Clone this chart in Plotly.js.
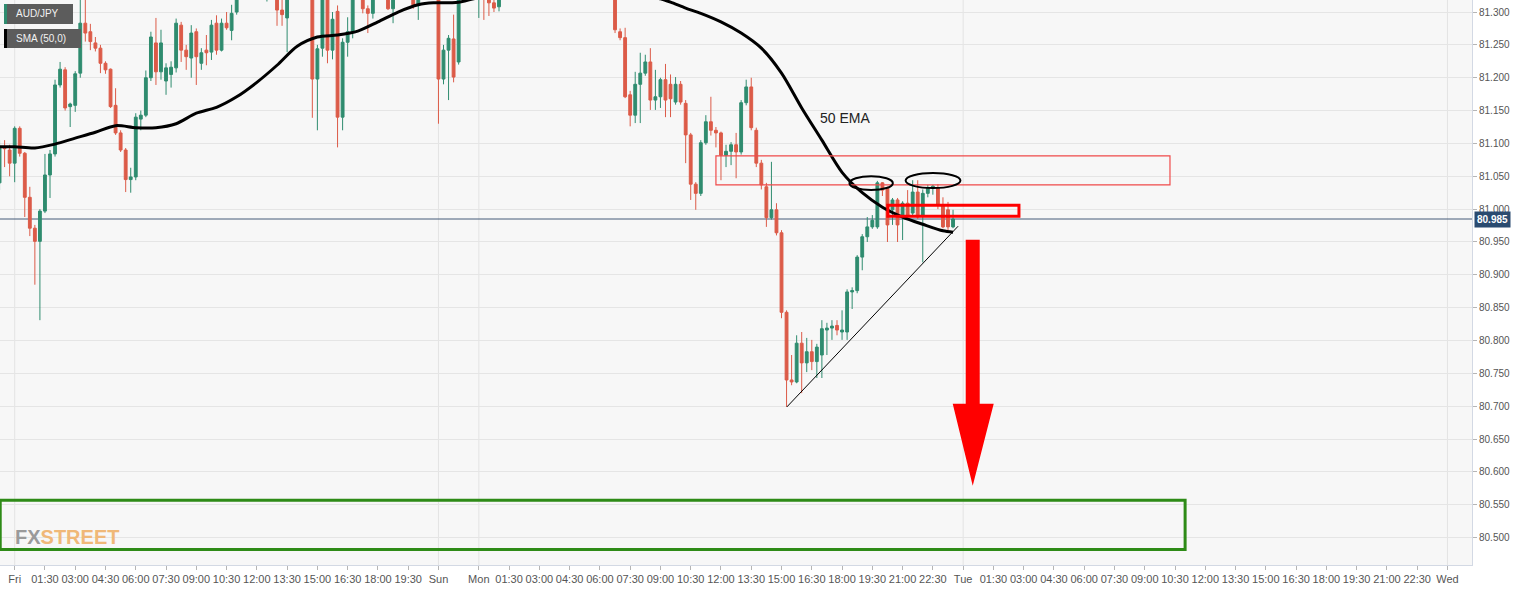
<!DOCTYPE html>
<html><head><meta charset="utf-8">
<script src="https://cdn.plot.ly/plotly-3.0.1.min.js"></script>
<style>html,body{margin:0;padding:0;background:#fff}#chart{width:1536px;height:589px}</style>
</head><body><div id="chart"></div>
<script>
// ---------- labels ----------
const symbol = 'AUD/JPY';
const indicatorLabel = 'SMA (50,0)';
const emaLabel = '50 EMA';
const lastPrice = 80.985;

// ---------- 15-minute candles, session 1: Thu 23:15 -> Fri 20:45 ----------
const friStart = '2021-12-09 23:15';
const friOpen = [
81.040,81.095,81.090,81.070,81.123,81.085,81.018,80.971,80.951,80.997,
81.052,81.084,81.189,81.212,81.156,81.158,81.207,81.283,81.270,81.253,
81.245,81.222,81.213,81.158,81.116,81.090,81.045,81.049,81.137,81.143,
81.200,81.253,81.209,81.195,81.205,81.215,81.280,81.242,81.230,81.270,
81.222,81.242,81.239,81.283,81.242,81.283,81.272,81.300,81.330,81.345,
81.338,81.342,81.350,81.322,81.335,81.330,81.303,81.291,81.330,81.345,
81.350,81.332,81.338,81.198,81.245,81.330,81.242,81.301,81.140,81.254,
81.270,81.330,81.335,81.305,81.298,81.330,81.338,81.330,81.305,81.330,
81.340,81.335,81.330,81.311,81.330,81.340,81.335];
const friHigh = [
81.105,81.105,81.098,81.126,81.126,81.087,81.034,80.976,81.000,81.084,
81.090,81.197,81.224,81.216,81.162,81.210,81.325,81.326,81.282,81.262,
81.250,81.225,81.214,81.184,81.120,81.093,81.063,81.146,81.150,81.211,
81.270,81.291,81.273,81.222,81.225,81.290,81.285,81.250,81.280,81.275,
81.245,81.265,81.288,81.295,81.290,81.300,81.311,81.345,81.352,81.360,
81.350,81.360,81.362,81.345,81.350,81.340,81.320,81.340,81.350,81.360,
81.360,81.345,81.350,81.250,81.345,81.345,81.300,81.310,81.260,81.292,
81.350,81.345,81.345,81.310,81.340,81.345,81.350,81.340,81.340,81.345,
81.355,81.345,81.340,81.340,81.345,81.350,81.345];
const friLow = [
81.029,81.064,81.050,81.041,81.080,80.988,80.959,80.885,80.831,80.994,
81.017,81.080,81.185,81.150,81.125,81.148,81.200,81.255,81.242,81.240,
81.207,81.206,81.154,81.113,81.087,81.026,81.025,81.044,81.120,81.140,
81.195,81.189,81.197,81.174,81.185,81.208,81.224,81.212,81.200,81.189,
81.212,81.219,81.227,81.235,81.240,81.273,81.257,81.296,81.322,81.330,
81.325,81.330,81.330,81.316,81.322,81.279,81.279,81.239,81.320,81.330,
81.325,81.322,81.139,81.120,81.232,81.222,81.228,81.094,81.120,81.232,
81.260,81.322,81.298,81.268,81.290,81.320,81.322,81.303,81.283,81.320,
81.325,81.322,81.305,81.288,81.322,81.325,81.322];
const friClose = [
81.095,81.092,81.070,81.123,81.085,81.018,80.971,80.951,80.997,81.052,
81.084,81.189,81.213,81.154,81.160,81.206,81.283,81.268,81.255,81.245,
81.222,81.212,81.156,81.116,81.090,81.045,81.049,81.140,81.143,81.200,
81.262,81.209,81.253,81.215,81.216,81.283,81.242,81.232,81.268,81.232,
81.238,81.238,81.280,81.242,81.283,81.276,81.298,81.330,81.345,81.338,
81.342,81.350,81.340,81.335,81.330,81.303,81.296,81.330,81.345,81.350,
81.332,81.338,81.198,81.244,81.330,81.242,81.289,81.140,81.254,81.270,
81.330,81.340,81.305,81.298,81.330,81.338,81.330,81.305,81.330,81.340,
81.335,81.330,81.311,81.330,81.340,81.335,81.338];

// ---------- session 2: Sun 22:00 -> Mon 23:30 ----------
const monStart = '2021-12-12 22:00';
const monOpen = [
81.338,81.198,81.242,81.259,81.224,81.335,81.342,81.338,81.330,81.345,
81.328,81.314,81.308,81.335,81.352,81.365,81.358,81.370,81.385,81.378,
81.390,81.402,81.395,81.380,81.388,81.375,81.362,81.372,81.360,81.352,
81.360,81.348,81.355,81.345,81.340,81.345,81.270,81.261,81.174,81.143,
81.190,81.207,81.224,81.166,81.171,81.197,81.190,81.163,81.190,81.161,
81.113,81.038,81.024,81.101,81.133,81.120,81.116,81.082,81.088,81.098,
81.087,81.162,81.186,81.120,81.070,81.034,80.987,80.999,80.964,80.843,
80.740,80.737,80.796,80.766,80.783,80.768,80.778,80.816,80.819,80.823,
80.813,80.813,80.874,80.876,80.927,80.958,80.973,80.973,81.040,81.032,
80.999,81.014,80.991,81.009,80.994,81.026,80.991,81.024,81.032,81.032,
81.006,80.999,80.973];
const monHigh = [
81.345,81.250,81.265,81.296,81.350,81.350,81.355,81.350,81.350,81.355,
81.335,81.322,81.345,81.360,81.370,81.380,81.375,81.390,81.400,81.395,
81.410,81.415,81.405,81.395,81.400,81.385,81.380,81.385,81.370,81.368,
81.370,81.360,81.365,81.355,81.352,81.360,81.275,81.276,81.180,81.209,
81.238,81.235,81.245,81.212,81.200,81.221,81.205,81.201,81.195,81.166,
81.116,81.041,81.105,81.143,81.171,81.125,81.118,81.098,81.102,81.116,
81.166,81.197,81.200,81.124,81.075,81.040,81.072,81.009,80.968,80.846,
80.778,80.808,80.813,80.804,80.801,80.795,80.831,80.827,80.831,80.831,
80.846,80.878,80.881,80.930,80.962,80.988,80.991,81.043,81.041,81.034,
81.017,81.017,81.012,81.029,81.044,81.044,81.030,81.037,81.037,81.038,
81.018,81.011,80.999];
const monLow = [
81.130,81.190,81.166,81.193,81.220,81.325,81.330,81.325,81.291,81.288,
81.294,81.300,81.301,81.325,81.340,81.350,81.345,81.360,81.370,81.365,
81.380,81.385,81.375,81.365,81.370,81.355,81.350,81.355,81.345,81.340,
81.342,81.335,81.340,81.332,81.328,81.268,81.257,81.169,81.126,81.131,
81.131,81.203,81.151,81.151,81.154,81.140,81.140,81.159,81.159,81.070,
81.014,80.999,81.020,81.098,81.112,81.094,81.044,81.064,81.067,81.047,
81.083,81.158,81.120,81.064,81.030,80.973,80.984,80.960,80.834,80.699,
80.732,80.735,80.720,80.752,80.755,80.743,80.743,80.778,80.801,80.808,
80.801,80.801,80.848,80.872,80.907,80.950,80.970,80.970,81.020,80.950,
80.976,80.950,80.953,80.985,80.990,80.985,80.919,81.018,81.022,81.000,
80.971,80.968,80.971];
const monClose = [
81.198,81.242,81.260,81.201,81.335,81.342,81.338,81.330,81.345,81.328,
81.314,81.306,81.335,81.352,81.365,81.358,81.370,81.385,81.378,81.390,
81.402,81.395,81.380,81.388,81.375,81.362,81.372,81.360,81.352,81.360,
81.348,81.355,81.345,81.340,81.345,81.273,81.261,81.171,81.143,81.190,
81.207,81.224,81.166,81.171,81.197,81.166,81.168,81.190,81.163,81.113,
81.038,81.024,81.101,81.133,81.120,81.116,81.082,81.088,81.098,81.087,
81.162,81.186,81.124,81.070,81.037,80.987,80.999,80.964,80.843,80.740,
80.737,80.796,80.766,80.783,80.768,80.790,80.818,80.819,80.822,80.816,
80.816,80.874,80.876,80.927,80.958,80.973,80.983,81.040,81.029,80.976,
81.014,80.976,81.009,80.991,81.026,80.988,81.024,81.032,81.035,81.006,
80.973,80.973,80.985];

// ---------- 50 EMA ----------
const emaTimes = [
'2021-12-09 23:15','2021-12-10 00:00','2021-12-10 01:00','2021-12-10 02:00','2021-12-10 03:00',
'2021-12-10 04:00','2021-12-10 05:00','2021-12-10 06:00','2021-12-10 07:00','2021-12-10 08:00',
'2021-12-10 09:00','2021-12-10 10:00','2021-12-10 11:00','2021-12-10 12:00','2021-12-10 13:00',
'2021-12-10 14:00','2021-12-10 15:00','2021-12-10 16:00','2021-12-10 17:00','2021-12-10 18:00',
'2021-12-10 19:00','2021-12-10 20:00','2021-12-10 20:45',
'2021-12-12 22:00','2021-12-12 23:00','2021-12-13 00:00','2021-12-13 01:00','2021-12-13 02:00',
'2021-12-13 03:00','2021-12-13 04:00','2021-12-13 05:00','2021-12-13 06:00','2021-12-13 07:00',
'2021-12-13 08:00','2021-12-13 09:00','2021-12-13 09:30','2021-12-13 10:15','2021-12-13 11:00',
'2021-12-13 12:00','2021-12-13 13:00','2021-12-13 14:00','2021-12-13 15:00','2021-12-13 16:00',
'2021-12-13 17:00','2021-12-13 18:00','2021-12-13 19:00','2021-12-13 20:00','2021-12-13 21:00',
'2021-12-13 22:00','2021-12-13 23:00','2021-12-13 23:30'];
const emaValues = [
81.095,81.095,81.093,81.099,81.108,
81.117,81.127,81.124,81.124,81.130,
81.146,81.155,81.171,81.193,81.219,
81.248,81.262,81.265,81.271,81.285,
81.300,81.311,81.314,
81.314,81.315,81.322,81.330,81.338,
81.343,81.345,81.343,81.338,81.332,
81.326,81.320,81.315,81.306,81.298,
81.285,81.268,81.245,81.207,81.154,
81.105,81.056,81.025,81.003,80.988,
80.977,80.967,80.965];

// ---------- x-axis tick labels ----------
const intradayTicks = ['01:30','03:00','04:30','06:00','07:30','09:00','10:30','12:00','13:30','15:00','16:30','18:00','19:30','21:00','22:30'];
const tickDays = [
  {date:'2021-12-10', name:'Fri', start:'00:00', upto:'19:30'},
  {date:'2021-12-12', name:'Sun', start:'22:00', upto:null},
  {date:'2021-12-13', name:'Mon', start:'00:00', upto:'22:30'},
  {date:'2021-12-14', name:'Tue', start:'00:00', upto:'22:30'},
  {date:'2021-12-15', name:'Wed', start:'00:00', upto:null}
];
const yTicks = [80.5,80.55,80.6,80.65,80.7,80.75,80.8,80.85,80.9,80.95,81.0,81.05,81.1,81.15,81.2,81.25,81.3];

// weekend closed: Fri 21:00 -> Sun 22:00
const weekendStart = '2021-12-10 21:00';
const weekendEnd = '2021-12-12 22:00';

// ---------- helpers ----------
function toMs(s) { return Date.parse(s.replace(' ', 'T') + (s.length === 16 ? ':00Z' : 'Z')); }
function barTimes(start, n) {
  const t0 = toMs(start);
  const out = [];
  for (let i = 0; i < n; i++) {
    const s = new Date(t0 + i * 900000).toISOString();
    out.push(s.slice(0, 10) + ' ' + s.slice(11, 19));
  }
  return out;
}
const times = barTimes(friStart, friOpen.length).concat(barTimes(monStart, monOpen.length));
const open = friOpen.concat(monOpen), high = friHigh.concat(monHigh);
const low = friLow.concat(monLow), close = friClose.concat(monClose);

const tickvals = [], ticktext = [], dayLines = [];
tickDays.forEach(d => {
  tickvals.push(d.date + ' ' + d.start); ticktext.push(d.name); dayLines.push(d.date + ' ' + d.start);
  if (d.upto) {
    for (const t of intradayTicks) { tickvals.push(d.date + ' ' + t); ticktext.push(t); if (t === d.upto) break; }
  }
});

// ---------- geometry of the plot (pixels) ----------
const W = 1536, H = 589, M = {l:0, r:64, t:0, b:24};
const PW = W - M.l - M.r, PH = H - M.t - M.b;
const px = x => x / PW, py = y => 1 - y / PH;

const traces = [
  {
    type: 'candlestick', x: times, open: open, high: high, low: low, close: close,
    increasing: {line: {color: '#2f8c6f', width: 1}, fillcolor: '#2f8c6f'},
    decreasing: {line: {color: '#dc5b48', width: 1}, fillcolor: '#dc5b48'},
    hoverinfo: 'skip', showlegend: false
  },
  {
    type: 'scatter', mode: 'lines', x: emaTimes, y: emaValues,
    line: {color: '#000000', width: 3, shape: 'spline', smoothing: 0.8},
    hoverinfo: 'skip', showlegend: false
  }
];

const shapes = [];
dayLines.forEach(t => shapes.push({type:'line', xref:'x', yref:'paper', x0:t, x1:t, y0:0, y1:1,
  line:{color:'#e3e3e3', width:1}, layer:'below'}));
shapes.push({type:'line', xref:'paper', yref:'y', x0:0, x1:1, y0:lastPrice, y1:lastPrice,
  line:{color:'#445b78', width:1}, layer:'below'});
// drawn analysis
shapes.push({type:'rect', x0:'2021-12-13 11:45', x1:'2021-12-14 10:15', y0:81.037, y1:81.081,
  line:{color:'#f04a4a', width:1.2}});
shapes.push({type:'rect', x0:'2021-12-13 20:16', x1:'2021-12-14 02:46', y0:80.989, y1:81.006,
  line:{color:'#ff0000', width:3}});
shapes.push({type:'rect', x0:'2021-12-09 23:17', x1:'2021-12-14 11:00', y0:80.482, y1:80.557,
  line:{color:'#2e8b17', width:3}});
shapes.push({type:'circle', x0:'2021-12-13 18:22', x1:'2021-12-13 20:31', y0:81.029, y1:81.050,
  line:{color:'#000', width:2}});
shapes.push({type:'circle', x0:'2021-12-13 21:09', x1:'2021-12-13 23:52', y0:81.032, y1:81.055,
  line:{color:'#000', width:2}});
shapes.push({type:'line', x0:'2021-12-13 15:16', y0:80.699, x1:'2021-12-13 23:45', y1:80.974,
  line:{color:'#000', width:1}});
shapes.push({type:'path', xsizemode:'pixel', ysizemode:'pixel', xanchor:'2021-12-14 00:28:30', yanchor:80.579,
  path:'M0,0 L-20,82 L-7,82 L-7,246 L7,246 L7,82 L21,82 Z', fillcolor:'#ff0000', line:{width:0}});
// legend boxes top-left
shapes.push({type:'rect', xref:'paper', yref:'paper', x0:px(4), x1:px(73), y0:py(24), y1:py(4),
  fillcolor:'#5c5c5c', line:{width:0}});
shapes.push({type:'rect', xref:'paper', yref:'paper', x0:px(4), x1:px(7), y0:py(24), y1:py(4),
  fillcolor:'#2f8c6f', line:{width:0}});
shapes.push({type:'rect', xref:'paper', yref:'paper', x0:px(4), x1:px(81), y0:py(48), y1:py(29),
  fillcolor:'#5c5c5c', line:{width:0}});
shapes.push({type:'rect', xref:'paper', yref:'paper', x0:px(4), x1:px(7), y0:py(48), y1:py(29),
  fillcolor:'#000000', line:{width:0}});

const annotations = [
  {xref:'paper', yref:'paper', x:px(14), y:py(14), xanchor:'left', yanchor:'middle', showarrow:false,
   text:symbol, font:{family:'Liberation Sans, Arial, sans-serif', size:10, color:'#f2f2f2'}},
  {xref:'paper', yref:'paper', x:px(14), y:py(38.5), xanchor:'left', yanchor:'middle', showarrow:false,
   text:indicatorLabel, font:{family:'Liberation Sans, Arial, sans-serif', size:10, color:'#f2f2f2'}},
  {xref:'x', yref:'y', x:'2021-12-13 18:10', y:81.139, showarrow:false, text:emaLabel,
   font:{family:'Liberation Sans, Arial, sans-serif', size:14, color:'#222'}},
  {xref:'paper', yref:'y', x:1, y:lastPrice, xanchor:'left', yanchor:'middle', xshift:2, showarrow:false,
   text:'<b>' + lastPrice.toFixed(3) + '</b>', bgcolor:'#2a4b70', borderpad:2,
   font:{family:'Liberation Sans, Arial, sans-serif', size:10, color:'#ffffff'}},
  {xref:'paper', yref:'paper', x:px(13), y:py(537), xanchor:'left', yanchor:'middle', showarrow:false,
   text:'<b><span style="color:#9a9a9a">FX</span><span style="color:#f0b878">STREET</span></b>',
   font:{family:'Liberation Sans Narrow, Liberation Sans, sans-serif', size:20}}
];

const layout = {
  width: W, height: H, margin: M,
  paper_bgcolor: '#ffffff', plot_bgcolor: '#f7f7f7',
  showlegend: false,
  boxgap: 0.2,
  xaxis: {
    type: 'date', range: ['2021-12-09 23:16:20', '2021-12-15 01:13:00'],
    rangebreaks: [{values: [weekendStart], dvalue: toMs(weekendEnd) - toMs(weekendStart)}],
    rangeslider: {visible: false},
    tickmode: 'array', tickvals: tickvals, ticktext: ticktext, tickangle: 0,
    ticks: 'outside', ticklen: 4, tickcolor: '#b5b5b5',
    tickfont: {family: 'Liberation Sans Narrow, Liberation Sans, Arial, sans-serif', size: 11, color: '#555'},
    showgrid: false, zeroline: false,
    showline: true, linecolor: '#d3d9e4', mirror: true
  },
  yaxis: {
    side: 'right', range: [80.4584, 81.3183],
    tickmode: 'array', tickvals: yTicks, ticktext: yTicks.map(v => v.toFixed(3)),
    ticks: 'outside', ticklen: 4, tickcolor: '#b5b5b5',
    tickfont: {family: 'Liberation Sans, Arial, sans-serif', size: 10, color: '#555'},
    showgrid: true, gridcolor: '#e5e5e5', gridwidth: 1, zeroline: false,
    showline: true, linecolor: '#d3d9e4', mirror: true
  },
  shapes: shapes,
  annotations: annotations
};

Plotly.newPlot('chart', traces, layout, {staticPlot: true, displayModeBar: false});
</script>
</body></html>
